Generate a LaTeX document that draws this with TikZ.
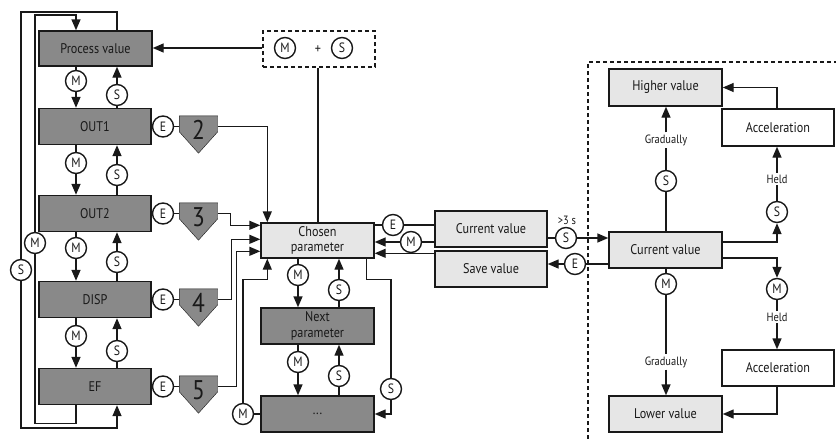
\documentclass[tikz,border=0pt]{standalone}
\usepackage{fontspec}
\setmainfont{PT Sans}[FakeStretch=0.87]
\usetikzlibrary{arrows.meta,calc,backgrounds}
\definecolor{dgray}{RGB}{137,137,137}
\definecolor{lgray}{RGB}{230,230,230}
\definecolor{ln}{RGB}{25,25,25}
\begin{document}
\begin{tikzpicture}[x=1pt,y=-1pt,
 line width=1.4pt, color=ln,
 every node/.style={font=\fontsize{14}{16}\selectfont},
 dbox/.style={draw=ln, fill=dgray, minimum width=112pt, minimum height=36pt, inner sep=0pt, align=center},
 lbox/.style={dbox, fill=lgray},
 wbox/.style={dbox, fill=white},
 circ/.style={circle, draw=ln, fill=white, minimum size=21pt, inner sep=0pt, font=\fontsize{13.5}{14}\selectfont},
 arr/.style={-{Triangle[length=11pt,width=9pt]}},
 lbl/.style={inner sep=1.5pt, font=\fontsize{12}{12}\selectfont},
 pentnum/.style={minimum width=37pt, minimum height=36pt, inner sep=0pt, text depth=9pt, font=\fontsize{27}{27}\selectfont},
 pentshape/.style={draw=ln, fill=dgray},
]
\useasboundingbox (0,0) rectangle (836,439);

% ---------- left column ----------
\node[dbox, minimum width=113pt, minimum height=35pt] (pv) at (95.5,48.5) {Process value};
\node[dbox] (o1) at (95,126.5) {OUT1};
\node[dbox] (o2) at (95,213.5) {OUT2};
\node[dbox] (disp) at (95,299.5) {DISP};
\node[dbox] (ef) at (95,386.5) {EF};

\node[circ] (m1) at (76,81) {M};   \node[circ] (s1) at (117,95) {S};
\node[circ] (m2) at (76,163) {M};  \node[circ] (s2) at (117,175) {S};
\node[circ] (m3) at (76,248) {M};  \node[circ] (s3) at (117,262) {S};
\node[circ] (m4) at (76,336) {M};  \node[circ] (s4) at (117,351) {S};

\draw (pv.south -| m1) -- (m1); \draw[arr] (m1) -- (m1 |- o1.north);
\draw (o1.north -| s1) -- (s1); \draw[arr] (s1) -- (s1 |- pv.south);
\draw (o1.south -| m2) -- (m2); \draw[arr] (m2) -- (m2 |- o2.north);
\draw (o2.north -| s2) -- (s2); \draw[arr] (s2) -- (s2 |- o1.south);
\draw (o2.south -| m3) -- (m3); \draw[arr] (m3) -- (m3 |- disp.north);
\draw (disp.north -| s3) -- (s3); \draw[arr] (s3) -- (s3 |- o2.south);
\draw (disp.south -| m4) -- (m4); \draw[arr] (m4) -- (m4 |- ef.north);
\draw (ef.north -| s4) -- (s4); \draw[arr] (s4) -- (s4 |- disp.south);

% outer loops
\node[circ] (mo) at (35,243) {M};
\node[circ] (so) at (21,270) {S};
\draw (ef.south -| m4) -- ++(0,18) -| (mo);
\draw[arr] (mo) |- (m1 |- 0,15) -- (m1 |- pv.north);
\draw (pv.north -| s1) -- (s1 |- 0,12) -| (so);
\draw[arr] (so) |- (s4 |- 0,428) -- (s4 |- ef.south);

% E circles and pentagons
\node[circ] (e1) at (163,126.5) {E};
\node[circ] (e2) at (163,213.5) {E};
\node[circ] (e3) at (163,299.5) {E};
\node[circ] (e4) at (163,386.5) {E};
\node[pentnum] (p2) at (198.5,134.5) {2};
\node[pentnum] (p3) at (198.5,221.5) {3};
\node[pentnum] (p4) at (198.5,307.5) {4};
\node[pentnum] (p5) at (198.5,394.5) {5};
\begin{scope}[on background layer]
\foreach \p in {p2,p3,p4,p5}{
 \draw[pentshape] (\p.north west) -- (\p.north east) -- ($(\p.north east)+(0,16)$) -- (\p.south) -- ($(\p.north west)+(0,16)$) -- cycle;}
\end{scope}
\draw (o1) -- (e1) -- (e1 -| p2.west);
\draw (o2) -- (e2) -- (e2 -| p3.west);
\draw (disp) -- (e3) -- (e3 -| p4.west);
\draw (ef) -- (e4) -- (e4 -| p5.west);

% ---------- middle ----------
\node[lbox, minimum width=113pt, minimum height=35pt, font=\fontsize{14}{15.5}\selectfont] (ch) at (317.5,240.5) {Chosen\\parameter};
\node[dbox, minimum width=113pt, font=\fontsize{14}{15.5}\selectfont] (np) at (317.5,326) {Next\\parameter};
\node[dbox, minimum width=113pt] (dots) at (317.5,414) {...};

\node[draw=ln, dash pattern=on 4pt off 3pt, minimum width=112pt, minimum height=36pt] (ms) at (319,49) {};
\node[circ] (msm) at (285,48) {M};
\node (plus) at (318,50) {+};
\node[circ] (mss) at (342,48) {S};
\draw[arr] (ms.west |- msm) -- (pv.east |- msm);
\draw (ms.south -| plus) -- (ch.north -| plus);

\draw[arr] (e1 -| p2.east) -| ($(ch.north west)+(7,0)$);
\draw[arr] (e2 -| p3.east) -- ++(13,0) |- ($(ch.north west)+(0,3)$);
\draw[arr] (e3 -| p4.east) -- ++(14,0) |- ($(ch.north west)+(0,17)$);
\draw[arr] (e4 -| p5.east) -- ++(19,0) |- ($(ch.north west)+(0,29)$);

\node[circ] (mdots) at (243,414) {M};
\draw (dots) -- (mdots);
\draw[arr] (mdots) |- ($(ch.south west)+(7,21)$) -- ($(ch.south west)+(7,0)$);

\node[circ] (mc1) at (298,275) {M}; \node[circ] (sc1) at (339,290) {S};
\node[circ] (mc2) at (298,362) {M}; \node[circ] (sc2) at (339,376) {S};
\draw (ch.south -| mc1) -- (mc1); \draw[arr] (mc1) -- (mc1 |- np.north);
\draw (np.north -| sc1) -- (sc1); \draw[arr] (sc1) -- (sc1 |- ch.south);
\draw (np.south -| mc2) -- (mc2); \draw[arr] (mc2) -- (mc2 |- dots.north);
\draw (dots.north -| sc2) -- (sc2); \draw[arr] (sc2) -- (sc2 |- np.south);

\node[circ] (sl) at (391,389) {S};
\draw ($(ch.south east)+(-8,0)$) -- ++(0,21) -| (sl);
\draw[arr] (sl) |- (dots.east);

% ---------- current / save ----------
\node[lbox] (cv) at (491,229) {Current value};
\node[lbox] (sv) at (491,269) {Save value};
\node[lbox, minimum width=113pt] (rc) at (665.5,250) {Current value};

\node[circ] (ec) at (393,225) {E};
\draw (cv.west |- ec) -- (ec) -- (ch.east |- ec);
\node[circ] (mc) at (411,242) {M};
\draw (cv.west |- mc) -- (mc);
\draw[arr] (mc) -- (ch.east |- mc);
\coordinate (svl) at ($(sv.north west)+(0,3)$);
\draw[arr] (svl) -- (ch.east |- svl);

\node[circ] (sg3) at (566,238) {S};
\node[font=\fontsize{12}{12}\selectfont] (gt) at (567,220) {>3 s};
\draw (cv.east |- sg3) -- (sg3);
\draw[arr] (sg3) -- (rc.west |- sg3);
\node[circ] (e5) at (575,264) {E};
\draw (rc.west |- e5) -- (e5);
\draw[arr] (e5) -- (sv.east |- e5);

% dashed frame
\draw[line width=1.1pt, dash pattern=on 4pt off 3pt] (588,439) -- (588,62) -- (836,62);

% ---------- right panel ----------
\node[lbox, minimum width=113pt, minimum height=37pt] (hv) at (665.5,87.5) {Higher value};
\node[wbox, minimum height=37pt] (ac1) at (778,127.5) {Acceleration};
\node[wbox] (ac2) at (778,368) {Acceleration};
\node[lbox, minimum width=113pt] (lv) at (665.5,414) {Lower value};

\node[circ] (sg) at (666,181) {S};
\node[lbl] (g1) at (666,140) {Gradually};
\draw (rc.north -| sg) -- (sg) -- (g1);
\draw[arr] (g1) -- (hv.south -| g1);

\node[circ] (sh) at (777,212) {S};
\node[lbl] (h1) at (777,179) {Held};
\draw[arr] ($(rc.east)+(0,-8)$) -| (sh);
\draw (sh) -- (h1);
\draw[arr] (h1) -- (ac1.south -| h1);
\draw[arr] (ac1.north -| h1) |- (hv.east);

\node[circ] (mh) at (777,289) {M};
\node[lbl] (h2) at (777,317) {Held};
\draw[arr] ($(rc.east)+(0,8)$) -| (mh);
\draw (mh) -- (h2);
\draw[arr] (h2) -- (ac2.north -| h2);
\draw[arr] (ac2.south -| h2) |- (lv.east);

\node[circ] (mg) at (666,284) {M};
\node[lbl] (g2) at (666,362) {Gradually};
\draw (rc.south -| mg) -- (mg) -- (g2);
\draw[arr] (g2) -- (lv.north -| g2);
\end{tikzpicture}
\end{document}
